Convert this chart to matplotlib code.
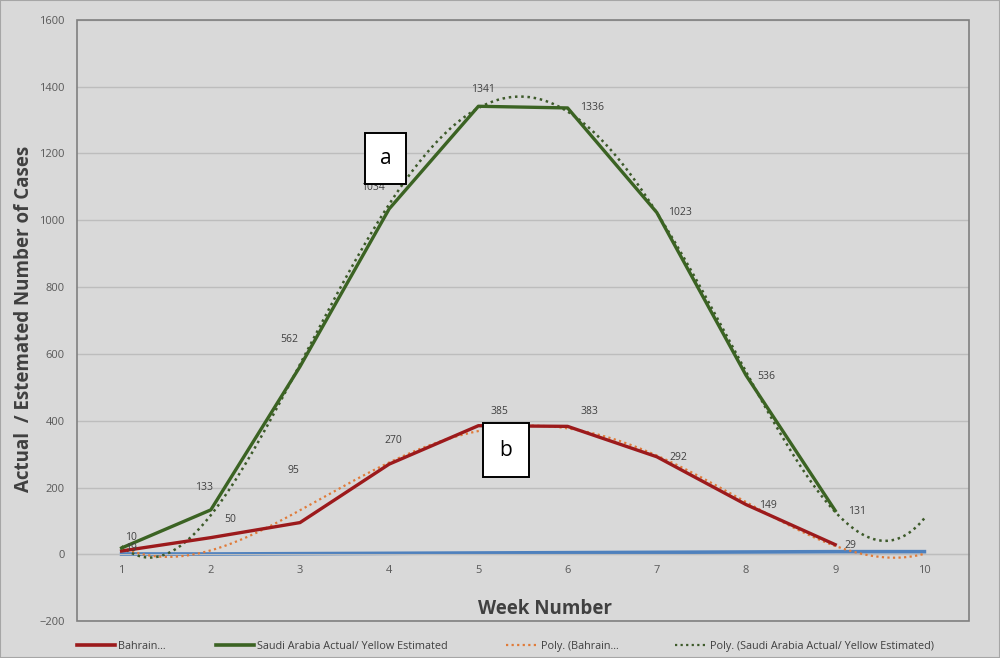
import numpy as np
import matplotlib
matplotlib.use("Agg")
import matplotlib.pyplot as plt
from matplotlib.lines import Line2D
from matplotlib.patches import Rectangle

# data
weeks = [1, 2, 3, 4, 5, 6, 7, 8, 9]
weeks_all = [1, 2, 3, 4, 5, 6, 7, 8, 9, 10]
bahrain = [10, 50, 95, 270, 385, 383, 292, 149, 29]
saudi = [19, 133, 562, 1034, 1341, 1336, 1023, 536, 131]
low_series = [1, 1, 2, 3, 4, 5, 6, 7, 8, 8]

# label offsets in pixels (dx, dy) relative to each point
saudi_off = [(9, -1), (-7, 22), (-11, 27), (-16, 21), (5, 17), (24, 0), (23, 0), (20, -1), (22, -1)]
bahrain_off = [(9, 13), (19, 18), (-7, 52), (4, 24), (21, 14), (22, 15), (22, -1), (22, -1), (15, -1)]

BG = "#d9d9d9"
RED = "#9c1a1c"
GREEN = "#3b6323"
BLUE = "#4f81bd"
ORANGE = "#e07b39"
DOTGREEN = "#3d5a2a"
TXT = "#404040"

plt.rcParams["font.family"] = ["Open Sans", "DejaVu Sans"]

fig = plt.figure(figsize=(10, 6.58), dpi=100, facecolor=BG)
ax = fig.add_axes([0.077, 0.056, 0.892, 0.914])
ax.set_facecolor(BG)

ax.set_xlim(0.5, 10.5)
ax.set_ylim(-200, 1600)
ax.set_yticks(np.arange(-200, 1601, 200))
ax.set_xticks(weeks_all)
ax.yaxis.grid(True, color="#bdbdbd", lw=1)
ax.set_axisbelow(True)
ax.tick_params(axis="both", length=0, labelsize=8, labelcolor="#595959")
ax.tick_params(axis="y", pad=9)

# x axis crosses at zero, frame drawn separately
for s in ["top", "right", "left"]:
    ax.spines[s].set_visible(False)
ax.spines["bottom"].set_position(("data", 0))
ax.spines["bottom"].set_color("#bdbdbd")
ax.tick_params(axis="x", pad=8)
ax.add_patch(Rectangle((0, 0), 1, 1, transform=ax.transAxes, fill=False,
                       ec="#7f7f7f", lw=1.2, clip_on=False, zorder=5))

# polynomial trendlines (order 4, forecast forward to week 10)
xs = np.linspace(1, 10, 300)
pb = np.polyfit(weeks, bahrain, 4)
ps = np.polyfit(weeks, saudi, 4)
ax.plot(xs, np.polyval(pb, xs), color=ORANGE, lw=1.6, ls=(0, (1, 1.5)), zorder=3)
ax.plot(xs, np.polyval(ps, xs), color=DOTGREEN, lw=1.8, ls=(0, (1, 1.5)), zorder=3)

ax.plot(weeks_all, low_series, color=BLUE, lw=2.6, zorder=2)
ax.plot(weeks, bahrain, color=RED, lw=2.4, zorder=4)
ax.plot(weeks, saudi, color=GREEN, lw=2.4, zorder=4)

for x, v, (dx, dy) in zip(weeks, saudi, saudi_off):
    ax.annotate(str(v), (x, v), xytext=(dx * 0.72, dy * 0.72), textcoords="offset points",
                ha="center", va="center", fontsize=7.5, color=TXT, zorder=6)
for x, v, (dx, dy) in zip(weeks, bahrain, bahrain_off):
    ax.annotate(str(v), (x, v), xytext=(dx * 0.72, dy * 0.72), textcoords="offset points",
                ha="center", va="center", fontsize=7.5, color=TXT, zorder=6)

# callout boxes
for lbl, x, y, pad in [("a", 3.96, 1185, 0.72), ("b", 5.31, 312, 0.78)]:
    ax.text(x, y, lbl, ha="center", va="center", fontsize=15, color="black", zorder=7,
            bbox=dict(boxstyle=f"square,pad={pad}", fc="white", ec="black", lw=1.4))

fig.text(0.024, 0.515, "Actual  / Estemated Number of Cases", rotation=90,
         ha="center", va="center", fontsize=13.5, fontweight="bold", color="#404040")
fig.text(0.545, 0.075, "Week Number", ha="center", va="center",
         fontsize=13.5, fontweight="bold", color="#404040")

# legend, one entry at a time to match spacing
entries = [
    (0.077, Line2D([], [], color=RED, lw=2.6), "Bahrain...", 3.5),
    (0.216, Line2D([], [], color=GREEN, lw=2.6), "Saudi Arabia Actual/ Yellow Estimated", 3.5),
    (0.506, Line2D([], [], color=ORANGE, lw=1.6, ls=(0, (1, 1.5))), "Poly. (Bahrain...", 2.9),
    (0.675, Line2D([], [], color=DOTGREEN, lw=1.6, ls=(0, (1, 1.5))), "Poly. (Saudi Arabia Actual/ Yellow Estimated)", 2.9),
]
for xpos, h, txt, hl in entries:
    fig.legend([h], [txt], loc="center left", bbox_to_anchor=(xpos, 0.018),
               frameon=False, fontsize=7.8, handlelength=hl, handletextpad=0.3,
               labelcolor="#404040", borderpad=0, borderaxespad=0)

fig.add_artist(Rectangle((0, 0), 1, 1, transform=fig.transFigure, fill=False,
                         ec="#a6a6a6", lw=1.5))

fig.savefig("out.png", dpi=100, facecolor=BG)
